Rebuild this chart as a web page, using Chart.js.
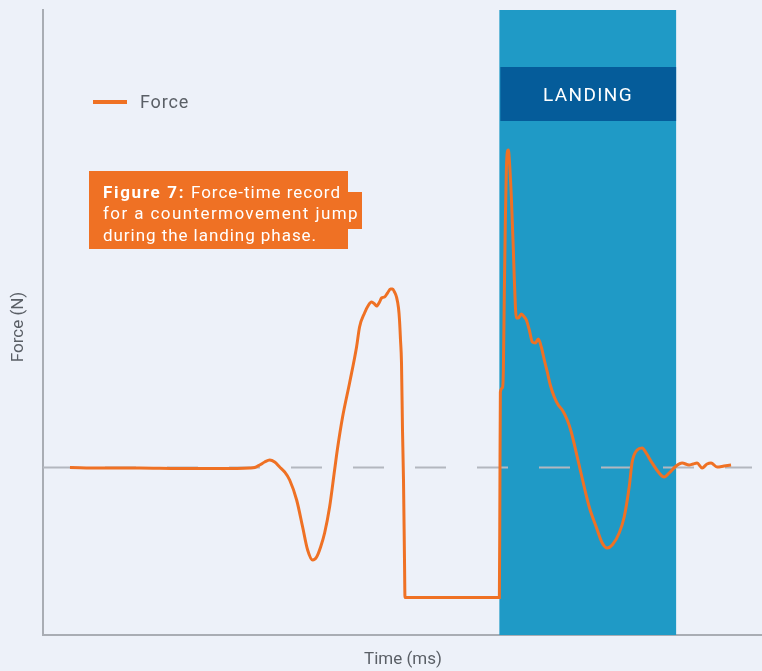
<!DOCTYPE html>
<html>
<head>
<meta charset="utf-8">
<script src="https://cdn.jsdelivr.net/npm/chart.js@4"></script>
<style>
  html, body { margin: 0; padding: 0; background: #edf1f9; }
  canvas { display: block; }
</style>
</head>
<body>
<canvas id="chart" width="762" height="671"></canvas>
<script>
// time (ms) and force (N)
const timeMs = [54, 114, 194, 274, 354, 414, 424, 434, 444, 454, 464, 474, 484, 494, 508, 520, 530, 540, 548, 556, 564, 574, 584, 590, 600, 614, 628, 634, 644, 652, 658, 664, 668, 674, 678, 684, 690, 696, 700, 704, 708, 712, 714, 716, 718, 720, 722, 724, 725,
  914, 915, 916, 920, 922, 924, 926, 928, 930, 932, 934, 938, 942, 944, 948, 952, 958, 964, 968, 974, 980, 986, 992, 998, 1004, 1010, 1016, 1024, 1032, 1040, 1050, 1058, 1070, 1084, 1094, 1108, 1120, 1130, 1140, 1154, 1164, 1174, 1180, 1190, 1200, 1208, 1220, 1234, 1244, 1254, 1268, 1280, 1294, 1302, 1310, 1320, 1330, 1338, 1350, 1364, 1378];
const forceN = [670, 668, 668, 666, 666, 668, 670, 680, 692, 700, 692, 672, 652, 620, 540, 432, 340, 300, 312, 352, 408, 512, 660, 748, 872, 1008, 1152, 1232, 1288, 1320, 1332, 1324, 1316, 1332, 1348, 1352, 1368, 1384, 1384, 1372, 1352, 1308, 1260, 1180, 1088, 820, 620, 300, 150,
  150, 540, 972, 988, 1060, 1380, 1660, 1860, 1932, 1940, 1900, 1752, 1540, 1420, 1268, 1268, 1284, 1272, 1260, 1220, 1172, 1168, 1184, 1152, 1100, 1052, 1000, 952, 920, 900, 860, 812, 712, 592, 512, 432, 368, 348, 360, 408, 472, 592, 692, 740, 748, 728, 688, 648, 632, 648, 676, 688, 680, 684, 688, 668, 684, 688, 672, 676, 680];
const bodyWeight = 670;
const baselineEnd = 1420;
const landingPhase = [914, 1268];
const timeRange = [0, 1440];
const forceRange = [0, 2500];

const ORANGE = '#ef7124';
const GREY_TEXT = '#5a5f66';
const FONT = 'Roboto, "Noto Sans", sans-serif';

const forcePoints = timeMs.map((t, i) => ({ x: t, y: forceN[i] }));

function fitText(ctx, text, width) {
  ctx.letterSpacing = '0px';
  const w = ctx.measureText(text).width;
  ctx.letterSpacing = ((width - w) / text.length) + 'px';
}

const decorations = {
  id: 'decorations',
  beforeDatasetsDraw(chart) {
    const { ctx, chartArea, scales: { x } } = chart;
    const x0 = x.getPixelForValue(landingPhase[0]);
    const x1 = x.getPixelForValue(landingPhase[1]);
    ctx.save();
    ctx.fillStyle = '#1f9ac6';
    ctx.fillRect(x0, chartArea.top, x1 - x0, chartArea.bottom - chartArea.top);
    ctx.fillStyle = '#055c9a';
    ctx.fillRect(x0 + 1, 67, x1 - x0 - 1, 54);
    ctx.fillStyle = '#ffffff';
    ctx.font = '19px ' + FONT;
    ctx.textBaseline = 'middle';
    ctx.textAlign = 'left';
    fitText(ctx, 'LANDING', 90);
    ctx.fillText('LANDING', 543, 96);
    ctx.restore();
  },
  afterDraw(chart) {
    const { ctx } = chart;
    ctx.save();
    // legend
    ctx.strokeStyle = ORANGE;
    ctx.lineWidth = 4;
    ctx.beginPath();
    ctx.moveTo(93, 102);
    ctx.lineTo(127, 102);
    ctx.stroke();
    ctx.fillStyle = GREY_TEXT;
    ctx.font = '18px ' + FONT;
    ctx.textBaseline = 'middle';
    fitText(ctx, 'Force', 49);
    ctx.fillText('Force', 140, 103);

    // axis titles
    ctx.font = '17px ' + FONT;
    ctx.textAlign = 'center';
    ctx.letterSpacing = '0px';
    ctx.fillText('Time (ms)', 403, 660);
    ctx.save();
    ctx.translate(19, 327);
    ctx.rotate(-Math.PI / 2);
    ctx.fillText('Force (N)', 0, 0);
    ctx.restore();

    // caption box
    ctx.fillStyle = ORANGE;
    ctx.fillRect(89, 171, 259, 22);
    ctx.fillRect(89, 192, 273, 37);
    ctx.fillRect(89, 228, 259, 21);
    ctx.fillStyle = '#ffffff';
    ctx.textAlign = 'left';
    ctx.textBaseline = 'alphabetic';
    ctx.font = 'bold 17px ' + FONT;
    fitText(ctx, 'Figure 7: ', 88);
    ctx.fillText('Figure 7:', 103, 198);
    ctx.font = '17px ' + FONT;
    fitText(ctx, 'Force-time record', 150);
    ctx.fillText('Force-time record', 191, 198);
    fitText(ctx, 'for a countermovement jump', 256);
    ctx.fillText('for a countermovement jump', 103, 219);
    fitText(ctx, 'during the landing phase.', 214);
    ctx.fillText('during the landing phase.', 103, 241);
    ctx.restore();
  }
};

new Chart(document.getElementById('chart'), {
  type: 'line',
  data: {
    datasets: [
      {
        label: 'Force',
        data: forcePoints,
        borderColor: ORANGE,
        borderWidth: 3,
        pointRadius: 0,
        cubicInterpolationMode: 'monotone',
        fill: false
      },
      {
        label: 'Body weight',
        data: [{ x: timeRange[0], y: bodyWeight }, { x: baselineEnd, y: bodyWeight }],
        borderColor: '#b3b7bf',
        borderWidth: 2,
        borderDash: [31, 31],
        pointRadius: 0,
        fill: false
      }
    ]
  },
  options: {
    responsive: false,
    animation: false,
    layout: { padding: { left: 43, top: 10, right: 0, bottom: 36 } },
    plugins: { legend: { display: false }, tooltip: { enabled: false } },
    scales: {
      x: {
        type: 'linear',
        min: timeRange[0],
        max: timeRange[1],
        ticks: { display: false },
        grid: { display: false, drawTicks: false },
        border: { display: true, color: '#a9adb4', width: 2 },
        afterFit: s => { s.height = 0; }
      },
      y: {
        min: forceRange[0],
        max: forceRange[1],
        ticks: { display: false },
        grid: { display: false, drawTicks: false },
        border: { display: true, color: '#a9adb4', width: 2 },
        afterFit: s => { s.width = 0; }
      }
    }
  },
  plugins: [decorations]
});
</script>
</body>
</html>
